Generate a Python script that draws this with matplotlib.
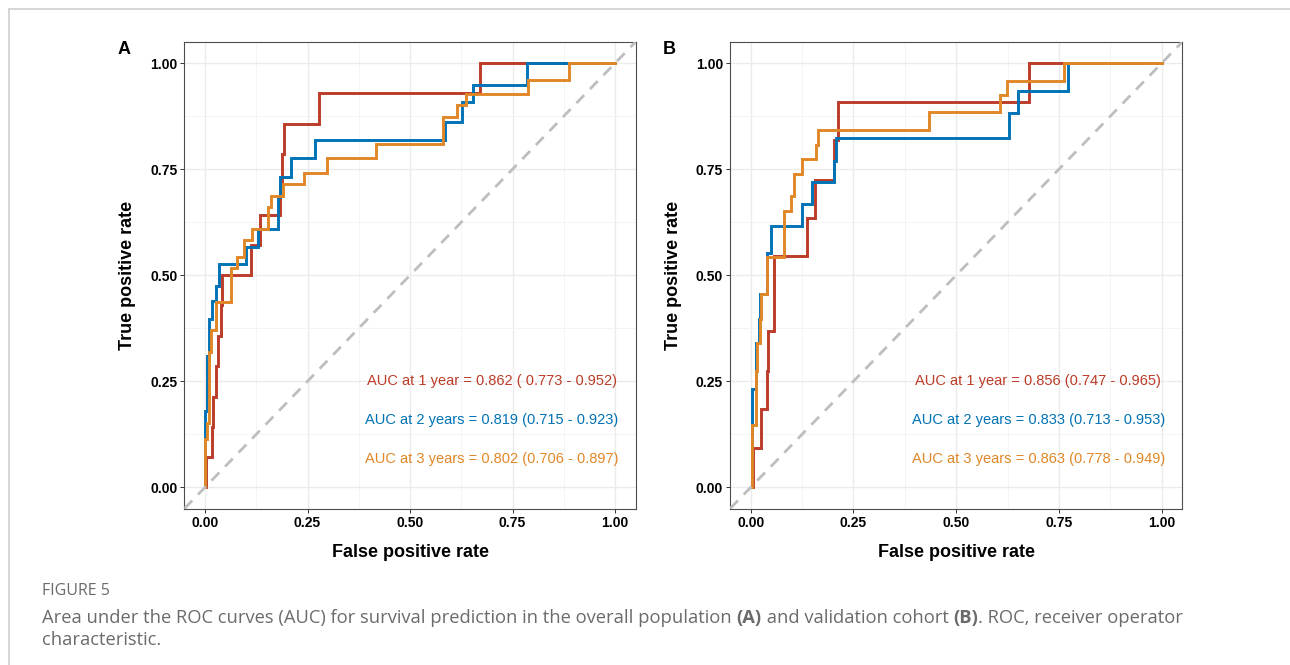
import matplotlib
matplotlib.use("Agg")
from matplotlib import pyplot as plt
from matplotlib.lines import Line2D

# ROC step points: (FPR where the curve rises, TPR after the rise)
# panel A - overall population
a_fpr_1y = [0, 0.002, 0.016, 0.020, 0.027, 0.031, 0.038, 0.041, 0.112, 0.134, 0.183, 0.187, 0.192, 0.279, 0.671, 1.0]
a_tpr_1y = [0, 0.071, 0.143, 0.214, 0.286, 0.357, 0.429, 0.500, 0.571, 0.643, 0.714, 0.786, 0.857, 0.929, 1.0, 1.0]
a_fpr_2y = [0, 0.0, 0.006, 0.010, 0.016, 0.027, 0.035, 0.100, 0.130, 0.178, 0.182, 0.210, 0.269, 0.585, 0.628, 0.654, 0.785, 1.0]
a_tpr_2y = [0, 0.18, 0.31, 0.396, 0.44, 0.475, 0.526, 0.566, 0.608, 0.684, 0.731, 0.776, 0.818, 0.861, 0.908, 0.949, 1.0, 1.0]
a_fpr_3y = [0, 0.0, 0.006, 0.010, 0.015, 0.027, 0.063, 0.079, 0.094, 0.114, 0.153, 0.161, 0.191, 0.242, 0.297, 0.416, 0.581, 0.614, 0.636, 0.789, 0.888, 1.0]
a_tpr_3y = [0, 0.113, 0.152, 0.32, 0.37, 0.438, 0.518, 0.542, 0.583, 0.609, 0.66, 0.688, 0.714, 0.741, 0.776, 0.809, 0.873, 0.901, 0.928, 0.96, 1.0, 1.0]

# panel B - validation cohort
b_fpr_1y = [0, 0.006, 0.026, 0.039, 0.041, 0.057, 0.137, 0.156, 0.203, 0.213, 0.677, 1.0]
b_tpr_1y = [0, 0.093, 0.184, 0.274, 0.369, 0.546, 0.635, 0.725, 0.818, 0.909, 1.0, 1.0]
b_fpr_2y = [0, 0.002, 0.012, 0.020, 0.023, 0.039, 0.050, 0.124, 0.149, 0.202, 0.207, 0.628, 0.650, 0.772, 1.0]
b_tpr_2y = [0, 0.231, 0.341, 0.396, 0.455, 0.552, 0.615, 0.667, 0.72, 0.77, 0.824, 0.883, 0.935, 1.0, 1.0]
b_fpr_3y = [0, 0.004, 0.012, 0.016, 0.023, 0.026, 0.039, 0.080, 0.099, 0.106, 0.124, 0.159, 0.164, 0.433, 0.606, 0.624, 0.762, 1.0]
b_tpr_3y = [0, 0.148, 0.274, 0.341, 0.396, 0.455, 0.544, 0.651, 0.686, 0.739, 0.773, 0.806, 0.842, 0.885, 0.924, 0.957, 1.0, 1.0]

a_labels = ["AUC at 1 year = 0.862 ( 0.773 - 0.952)",
            "AUC at 2 years = 0.819 (0.715 - 0.923)",
            "AUC at 3 years = 0.802 (0.706 - 0.897)"]
b_labels = ["AUC at 1 year = 0.856 (0.747 - 0.965)",
            "AUC at 2 years = 0.833 (0.713 - 0.953)",
            "AUC at 3 years = 0.863 (0.778 - 0.949)"]

ticks = [0, 0.25, 0.5, 0.75, 1.0]
tick_labels = ["0.00", "0.25", "0.50", "0.75", "1.00"]

COLORS = ["#BC3C29", "#0072B5", "#E18727"]

plt.rcParams['font.family'] = ['Liberation Sans', 'DejaVu Sans']

W, H = 1290, 665
fig = plt.figure(figsize=(W / 100, H / 100), dpi=100)


def px(x, y):
    # pixel position -> figure fraction
    return x / W, 1 - y / H


def draw_panel(ax, curves, labels):
    for (fpr, tpr), c in zip(curves, COLORS):
        ax.step(fpr, tpr, where='post', color=c, lw=2.1, solid_joinstyle='miter', zorder=3)
    ax.axline((0, 0), (1, 1), color="#BEBEBE", lw=2.0, dashes=(4, 3), zorder=4)

    for lab, c, y in zip(labels, COLORS, [0.251, 0.159, 0.067]):
        ax.text(0.70, y, lab, color=c, fontsize=10.5, ha='center', va='center')

    ax.set_xlim(-0.05, 1.05)
    ax.set_ylim(-0.05, 1.05)
    ax.set_xticks(ticks)
    ax.set_xticklabels(tick_labels)
    ax.set_yticks(ticks)
    ax.set_yticklabels(tick_labels)
    ax.set_xticks([0.125, 0.375, 0.625, 0.875], minor=True)
    ax.set_yticks([0.125, 0.375, 0.625, 0.875], minor=True)
    ax.grid(which='major', color="#EBEBEB", lw=1.0, zorder=0)
    ax.grid(which='minor', color="#F2F2F2", lw=0.6, zorder=0)
    ax.set_axisbelow(True)
    ax.tick_params(which='major', length=3.2, width=0.7, color="#333333",
                   labelsize=10, pad=2)
    ax.tick_params(which='minor', length=0)
    for lab in ax.get_xticklabels() + ax.get_yticklabels():
        lab.set_fontweight('bold')
    for s in ax.spines.values():
        s.set_color("#4D4D4D")
        s.set_linewidth(0.8)
    ax.set_xlabel("False positive rate", fontsize=13, fontweight='bold', labelpad=10)
    ax.set_ylabel("True positive rate", fontsize=13, fontweight='bold', labelpad=10)


ax_a = fig.add_axes([184.5 / W, 1 - 508.5 / H, 451 / W, 466.5 / H])
ax_b = fig.add_axes([730.2 / W, 1 - 508.5 / H, 452 / W, 466.5 / H])

draw_panel(ax_a, [(a_fpr_1y, a_tpr_1y), (a_fpr_2y, a_tpr_2y), (a_fpr_3y, a_tpr_3y)], a_labels)
draw_panel(ax_b, [(b_fpr_1y, b_tpr_1y), (b_fpr_2y, b_tpr_2y), (b_fpr_3y, b_tpr_3y)], b_labels)

fig.text(*px(124, 49), "A", fontsize=13, fontweight='bold', ha='center', va='center')
fig.text(*px(669, 49), "B", fontsize=13, fontweight='bold', ha='center', va='center')

# light frame around the figure (cut off at right and bottom)
fig.add_artist(Line2D([9 / W, 1], [1 - 9 / H, 1 - 9 / H], transform=fig.transFigure, color="#D0D0D0", lw=1.2))
fig.add_artist(Line2D([9 / W, 9 / W], [1 - 9 / H, 0], transform=fig.transFigure, color="#D0D0D0", lw=1.2))

# caption
cap_color = "#6B6B6B"
cap_font = ['Open Sans', 'DejaVu Sans']
fig.text(*px(42, 591), "FIGURE 5", fontsize=11.5, color=cap_color, family=cap_font, va='center')

pieces = [("Area under the ROC curves (AUC) for survival prediction in the overall population ", 'normal'),
          ("(A)", 'bold'),
          (" and validation cohort ", 'normal'),
          ("(B)", 'bold'),
          (". ROC, receiver operator", 'normal')]
renderer = fig.canvas.get_renderer()
x0 = 42
for txt, wt in pieces:
    t = fig.text(*px(x0, 623), txt, fontsize=13.2, color=cap_color, family=cap_font,
                 fontweight=wt, va='baseline', ha='left')
    x0 = t.get_window_extent(renderer).x1
fig.text(*px(42, 645), "characteristic.", fontsize=13.2, color=cap_color, family=cap_font, va='baseline')

fig.savefig("out.png", dpi=100)
